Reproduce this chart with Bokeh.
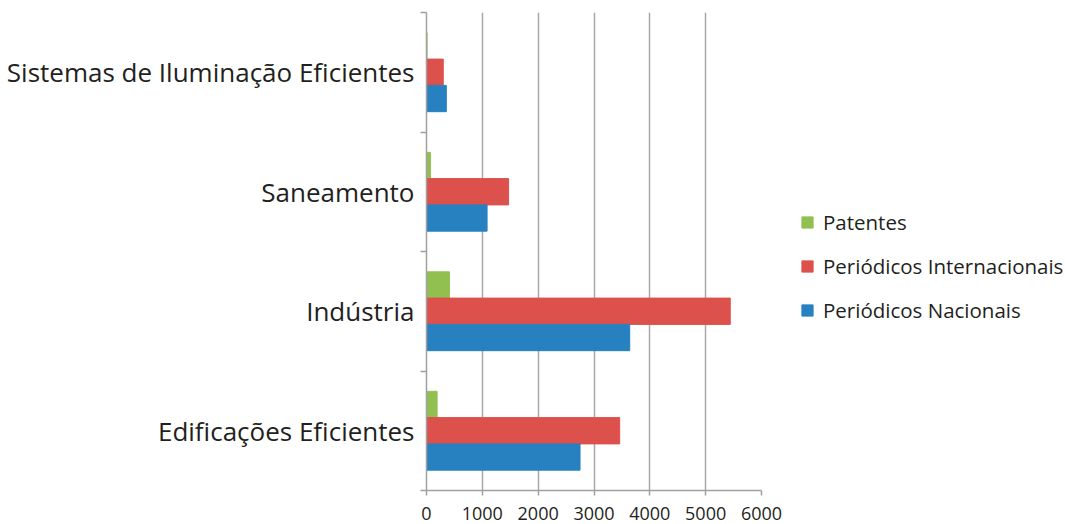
from bokeh.plotting import figure
from bokeh.models import Range1d, FixedTicker, Legend, LegendItem, ColumnDataSource
from bokeh.transform import dodge
from bokeh.embed import file_html
from bokeh.resources import INLINE

categories = ["Edificações Eficientes", "Indústria", "Saneamento", "Sistemas de Iluminação Eficientes"]
patentes = [190, 410, 70, 10]
internacionais = [3460, 5440, 1470, 300]
nacionais = [2750, 3640, 1085, 355]
x_ticks = [0, 1000, 2000, 3000, 4000, 5000, 6000]

FONT = "Open Sans"
TXT = "#231f20"
GREEN = "#92c050"
RED = "#dc514c"
BLUE = "#2781c1"

ys = [i + 0.5 for i in range(len(categories))]
src = ColumnDataSource(dict(y=ys, pat=patentes, intl=internacionais, nac=nacionais))

p = figure(frame_width=335, frame_height=478, x_range=Range1d(0, 6000), y_range=Range1d(0, len(categories)),
           output_backend="svg", toolbar_location=None,
           min_border_left=426, min_border_right=0, min_border_top=12, min_border_bottom=34)
p.outline_line_color = None

bh = 0.22
r_p = p.hbar(y=dodge("y", bh, range=p.y_range), right="pat", left=0, height=bh, source=src,
             fill_color=GREEN, line_color=GREEN)
r_i = p.hbar(y="y", right="intl", left=0, height=bh, source=src,
             fill_color=RED, line_color=RED)
r_n = p.hbar(y=dodge("y", -bh, range=p.y_range), right="nac", left=0, height=bh, source=src,
             fill_color=BLUE, line_color=BLUE)

# x axis
p.xaxis.ticker = FixedTicker(ticks=x_ticks)
p.xaxis.axis_line_color = "#a0a0a0"
p.xaxis.axis_line_width = 1.5
p.xaxis.major_tick_line_color = "#a0a0a0"
p.xaxis.major_tick_line_width = 1.5
p.xaxis.major_tick_out = 5
p.xaxis.major_tick_in = 0
p.xaxis.minor_tick_line_color = None
p.xaxis.major_label_text_font = FONT
p.xaxis.major_label_text_font_size = "18px"
p.xaxis.major_label_text_color = TXT
p.xaxis.major_label_standoff = 11

# y axis: labels at centers, ticks at boundaries
p.yaxis.ticker = FixedTicker(ticks=ys, minor_ticks=list(range(len(categories) + 1)))
p.yaxis.major_label_overrides = {y: c for y, c in zip(ys, categories)}
p.yaxis.major_tick_line_color = None
p.yaxis.major_tick_out = 0
p.yaxis.minor_tick_line_color = "#a0a0a0"
p.yaxis.minor_tick_line_width = 1.5
p.yaxis.minor_tick_out = 6
p.yaxis.minor_tick_in = 0
p.yaxis.axis_line_color = "#a0a0a0"
p.yaxis.axis_line_width = 1.5
p.yaxis.major_label_text_font = FONT
p.yaxis.major_label_text_font_size = "26px"
p.yaxis.major_label_text_color = TXT
p.yaxis.major_label_standoff = 6

p.xgrid.ticker = FixedTicker(ticks=x_ticks[1:])
p.xgrid.grid_line_color = "#a8a8a8"
p.xgrid.grid_line_width = 1.5
p.ygrid.grid_line_color = None

legend = Legend(items=[
    LegendItem(label="Patentes", renderers=[r_p]),
    LegendItem(label="Periódicos Internacionais", renderers=[r_i]),
    LegendItem(label="Periódicos Nacionais", renderers=[r_n]),
], location=(39, 166))
legend.border_line_color = None
legend.background_fill_alpha = 0
legend.label_text_font = FONT
legend.label_text_font_size = "20.5px"
legend.label_text_color = TXT
legend.glyph_width = 14
legend.glyph_height = 14
legend.spacing = 16
legend.margin = 32
legend.padding = 8
legend.label_standoff = 9
p.add_layout(legend, "right")

open("out.html", "w").write(file_html(p, INLINE))
